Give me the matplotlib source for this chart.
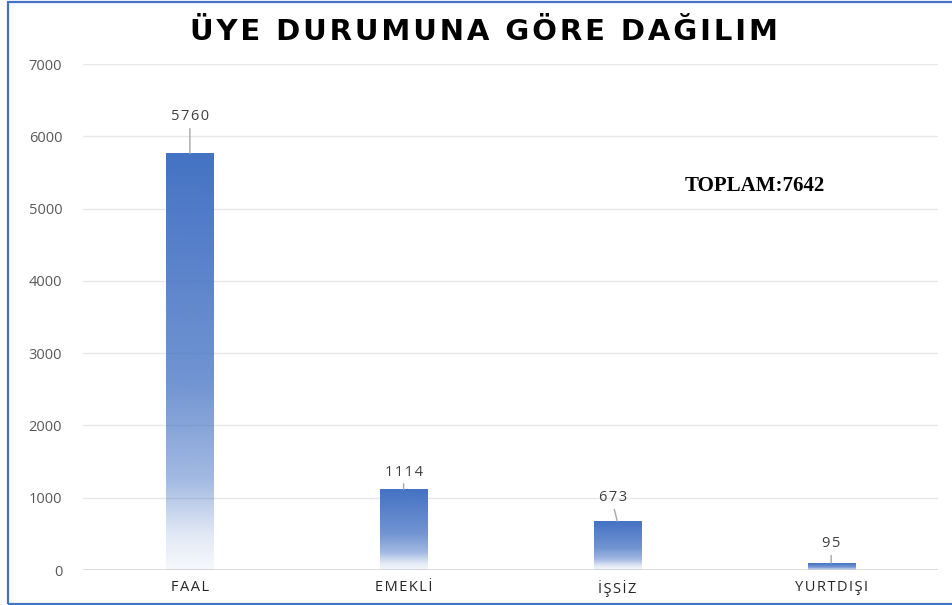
import matplotlib.pyplot as plt
import matplotlib.patches as mpatches
import numpy as np

# data
categories = ["FAAL", "EMEKLİ", "İŞSİZ", "YURTDIŞI"]
members = [5760, 1114, 673, 95]
total_text = "TOPLAM:7642"
title = "ÜYE DURUMUNA GÖRE DAĞILIM"
yticks = [0, 1000, 2000, 3000, 4000, 5000, 6000, 7000]

# label offsets (points) for the leader-line labels
label_offsets = [(0, 21), (0, 7), (-3, 11.5), (0, 8.5)]

blue = np.array([0x44, 0x72, 0xC4]) / 255.0
fonts = ['Open Sans', 'DejaVu Sans']


def spaced(s, gap='\u200a'):
    # Office-style letter spacing
    return gap.join(s)


fig = plt.figure(figsize=(9.52, 6.05), dpi=100, facecolor='white')
ax = fig.add_axes([83 / 952, 1 - 570 / 605, (938 - 83) / 952, (570 - 64) / 605])

# vertical gradient: solid blue at the top fading to white at the bottom
t = np.linspace(0, 1, 256)
alpha = np.interp(t, [0, 0.08, 0.22, 0.45, 1], [0.05, 0.15, 0.5, 0.76, 1.0])
grad = np.zeros((256, 1, 4))
grad[:, 0, :3] = blue
grad[:, 0, 3] = alpha[::-1]

width = 0.22
x = np.arange(len(categories))
for xi, v in zip(x, members):
    ax.imshow(grad, extent=[xi - width / 2, xi + width / 2, 0, v],
              aspect='auto', interpolation='bilinear', zorder=2)

for xi, v, (dx, dy) in zip(x, members, label_offsets):
    ax.annotate(spaced(str(v)), xy=(xi, v), xytext=(dx, dy),
                textcoords='offset points',
                ha='center', va='bottom', fontsize=10.5, color='#404040',
                family=fonts,
                arrowprops=dict(arrowstyle='-', color='#a6a6a6', lw=1,
                                relpos=(0.5, 0), shrinkA=1, shrinkB=0))

ax.set_xlim(-0.5, len(categories) - 0.5)
ax.set_ylim(0, 7000)
ax.set_yticks(yticks)
ax.set_yticklabels([str(v) for v in yticks], family=fonts,
                   fontsize=10.5, color='#595959')
ax.set_xticks(x)
ax.set_xticklabels([spaced(c) for c in categories], family=fonts,
                   fontsize=10.5, color='#262626')
ax.tick_params(axis='y', length=0, pad=15)
ax.tick_params(axis='x', length=0, pad=7)
for s in ax.spines.values():
    s.set_visible(False)
ax.grid(axis='y', color='#e8e8e8', lw=1, zorder=0)
ax.axhline(0, color='#d9d9d9', lw=2, zorder=1)
ax.set_axisbelow(True)

fig.text(484 / 952, 1 - 32 / 605, spaced(title), ha='center', va='center',
         fontsize=21, fontweight='bold', family=['DejaVu Sans'], color='black')
fig.text(755 / 952, 1 - 186 / 605, total_text, ha='center', va='center',
         fontsize=15, fontweight='bold', family='Liberation Serif', color='black')

# thin blue frame around the picture
frame = mpatches.Rectangle((7.5 / 952, 1.5 / 605), 1.2, 1 - 3 / 605,
                           transform=fig.transFigure, fill=False,
                           edgecolor='#4472C4', lw=1.6)
fig.patches.append(frame)

fig.savefig('out.png', dpi=100, facecolor='white')
